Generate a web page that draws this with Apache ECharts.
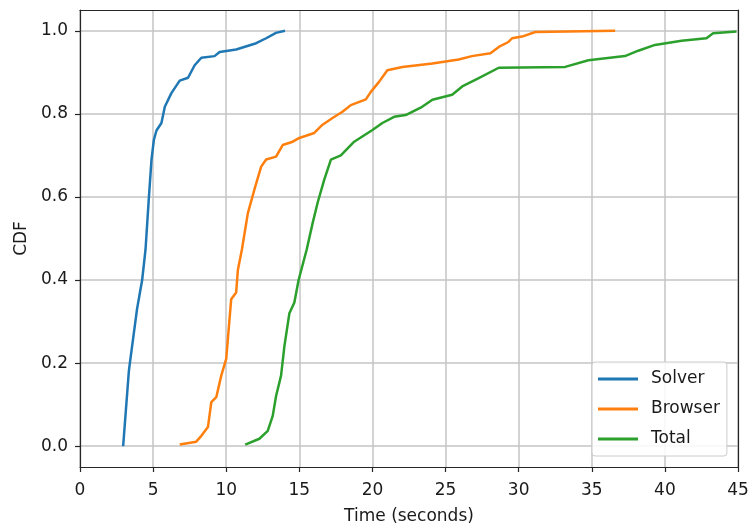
<!DOCTYPE html>
<html>
<head>
<meta charset="utf-8">
<script src="https://cdn.jsdelivr.net/npm/echarts@6/dist/echarts.min.js"></script>
<style>
  html, body { margin: 0; padding: 0; background: #fff; }
  #chart { width: 750px; height: 527px; }
</style>
</head>
<body>
<div id="chart"></div>
<script>
    // values (time in seconds, cumulative fraction)
    const solverTime = [2.95, 3.34, 3.41, 3.9, 4.1, 4.25, 4.48, 4.7, 4.89, 5.05, 5.23, 5.57, 5.8, 6.25, 6.82, 7.39, 7.84, 8.3, 9.2, 9.55, 10.68, 12.05, 12.73, 13.4, 14.02];
    const solverCdf  = [0.0, 0.18, 0.2, 0.33, 0.37, 0.4, 0.473, 0.593, 0.69, 0.737, 0.76, 0.778, 0.817, 0.85, 0.88, 0.887, 0.917, 0.935, 0.939, 0.949, 0.955, 0.97, 0.982, 0.995, 1.0];

    const browserTime = [6.82, 7.95, 8.3, 8.75, 8.98, 9.32, 9.66, 10.0, 10.11, 10.34, 10.68, 10.8, 11.07, 11.48, 11.93, 12.39, 12.73, 13.41, 13.86, 14.55, 15.0, 16.02, 16.59, 17.27, 17.95, 18.52, 19.55, 19.89, 20.45, 21.02, 22.05, 24.1, 25.9, 26.8, 28.07, 28.64, 29.3, 29.55, 30.23, 31.14, 36.6];
    const browserCdf  = [0.004, 0.011, 0.025, 0.046, 0.106, 0.118, 0.17, 0.21, 0.257, 0.354, 0.37, 0.425, 0.473, 0.561, 0.618, 0.673, 0.69, 0.697, 0.725, 0.733, 0.742, 0.754, 0.774, 0.79, 0.805, 0.821, 0.835, 0.853, 0.877, 0.905, 0.913, 0.921, 0.931, 0.939, 0.946, 0.961, 0.973, 0.982, 0.986, 0.997, 1.0];

    const totalTime = [11.3, 12.27, 12.84, 13.18, 13.41, 13.75, 13.98, 14.32, 14.66, 14.95, 15.5, 15.91, 16.25, 16.7, 17.16, 17.84, 18.75, 20.0, 20.68, 21.48, 22.27, 23.4, 24.1, 25.45, 26.14, 27.27, 28.64, 33.18, 34.77, 37.27, 38.18, 39.32, 41.14, 42.84, 43.3, 44.9];
    const totalCdf  = [0.004, 0.018, 0.037, 0.073, 0.121, 0.17, 0.241, 0.32, 0.346, 0.4, 0.473, 0.537, 0.586, 0.641, 0.69, 0.70, 0.733, 0.761, 0.778, 0.793, 0.797, 0.817, 0.834, 0.846, 0.866, 0.886, 0.911, 0.913, 0.929, 0.939, 0.952, 0.966, 0.976, 0.982, 0.994, 0.998];

    const yTicks = [0, 0.2, 0.4, 0.6, 0.8, 1.0];

    const zip = (xs, ys) => xs.map((x, i) => [x, ys[i]]);

    let chart = echarts.init(document.getElementById('chart'));
    const font = 'DejaVu Sans';
    const textColor = '#1a1a1a';
    const frame = { show: true, onZero: false, lineStyle: { color: '#262626', width: 1.2 } };
    let option = {
        animation: false,
        backgroundColor: '#fff',
        textStyle: { fontFamily: font },
        grid: {
            left: 80,
            right: 12,
            top: 10,
            bottom: 60,
            outerBoundsMode: 'none',
            containLabel: false
        },
        legend: {
            orient: 'vertical',
            left: 592,
            top: 362,
            icon: 'rect',
            itemWidth: 40,
            itemHeight: 3,
            itemGap: 12,
            padding: [8, 7, 8, 6],
            borderColor: '#cccccc',
            borderWidth: 1,
            borderRadius: 3,
            backgroundColor: 'rgba(255,255,255,0.85)',
            textStyle: {
                fontFamily: font,
                fontSize: 17,
                lineHeight: 18,
                color: textColor,
                padding: [0, 0, 0, 8]
            },
            data: ['Solver', 'Browser', 'Total']
        },
        xAxis: [{
            type: 'value',
            min: 0,
            max: 45,
            interval: 5,
            name: 'Time (seconds)',
            nameLocation: 'middle',
            nameGap: 41,
            nameTextStyle: { fontFamily: font, fontSize: 17, color: textColor },
            axisLine: frame,
            axisTick: { show: true, length: 5, lineStyle: { color: '#262626', width: 1.2 } },
            axisLabel: { fontFamily: font, fontSize: 17, color: textColor, margin: 15 },
            splitLine: { show: true, lineStyle: { color: '#c4c4c4', width: 1.5 } }
        }, {
            // top edge of the frame
            type: 'value',
            position: 'top',
            min: 0,
            max: 45,
            interval: 5,
            axisLine: frame,
            axisTick: { show: false },
            axisLabel: { show: false },
            splitLine: { show: false }
        }],
        yAxis: [{
            type: 'value',
            min: -0.05,
            max: 1.05,
            name: 'CDF',
            nameLocation: 'middle',
            nameGap: 49,
            nameRotate: 90,
            nameTextStyle: { fontFamily: font, fontSize: 17, color: textColor },
            axisLine: frame,
            axisTick: { show: true, length: 5, customValues: yTicks, lineStyle: { color: '#262626', width: 1.2 } },
            axisLabel: {
                fontFamily: font, fontSize: 17, color: textColor, margin: 12,
                customValues: yTicks,
                formatter: v => v.toFixed(1)
            },
            splitLine: { show: true, lineStyle: { color: '#c4c4c4', width: 1.5 } }
        }, {
            // right edge of the frame
            type: 'value',
            position: 'right',
            min: -0.05,
            max: 1.05,
            axisLine: frame,
            axisTick: { show: false },
            axisLabel: { show: false },
            splitLine: { show: false }
        }],
        series: [
            {
                name: 'Solver',
                type: 'line',
                data: zip(solverTime, solverCdf),
                showSymbol: false,
                lineStyle: { color: '#1f77b4', width: 2.5 },
                itemStyle: { color: '#1f77b4' }
            },
            {
                name: 'Browser',
                type: 'line',
                data: zip(browserTime, browserCdf),
                showSymbol: false,
                lineStyle: { color: '#ff7f0e', width: 2.5 },
                itemStyle: { color: '#ff7f0e' }
            },
            {
                name: 'Total',
                type: 'line',
                data: zip(totalTime, totalCdf),
                showSymbol: false,
                lineStyle: { color: '#2ca02c', width: 2.5 },
                itemStyle: { color: '#2ca02c' }
            }
        ]
    };
    chart.setOption(option);
</script>
</body>
</html>
